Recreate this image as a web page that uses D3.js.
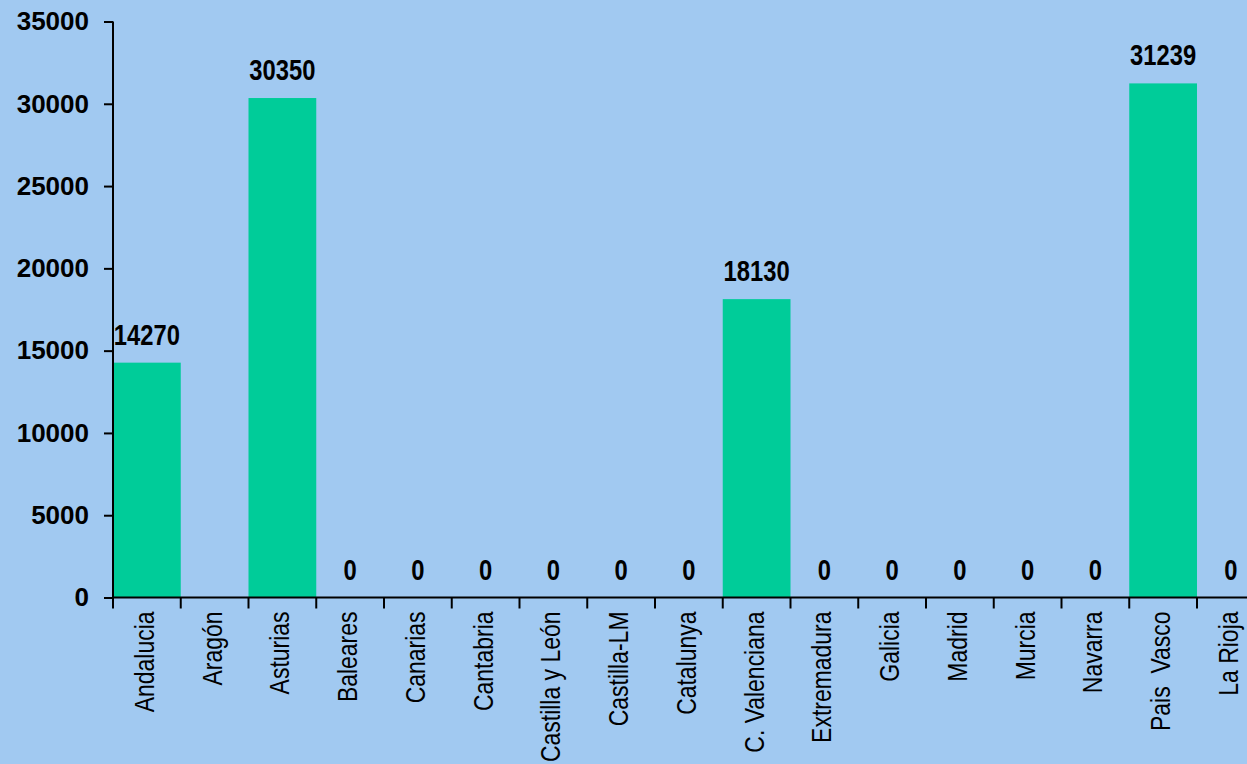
<!DOCTYPE html>
<html>
<head>
<meta charset="utf-8">
<script src="https://cdn.jsdelivr.net/npm/d3@7"></script>
<style>
  html, body { margin: 0; padding: 0; background: #a1c9f1; overflow: hidden; }
</style>
</head>
<body>
<div id="chart"></div>
<script>
// Size of the page
var w = 1247;
var h = 764;

// Data
var regions = ["Andalucia", "Aragón", "Asturias", "Baleares", "Canarias", "Cantabria",
	"Castilla y León", "Castilla-LM", "Catalunya", "C. Valenciana", "Extremadura",
	"Galicia", "Madrid", "Murcia", "Navarra", "Pais  Vasco", "La Rioja"];
var values = [14270, null, 30350, 0, 0, 0, 0, 0, 0, 18130, 0, 0, 0, 0, 0, 31239, 0];
var yTicks = [0, 5000, 10000, 15000, 20000, 25000, 30000, 35000];

var plotLeft = 113, plotTop = 21.5, plotBottom = 597.5;
var step = 67.75;
var narrow = 0.82; // squeeze Arial into an "Arial Narrow" look
var font = "Liberation Sans, Arial, sans-serif";

var x = d3.scaleBand()
	.domain(regions)
	.range([plotLeft, plotLeft + step * regions.length])
	.padding(0);

var y = d3.scaleLinear()
	.domain([0, 35000])
	.range([plotBottom, plotTop]);

var svg = d3.select("#chart")
	.append("svg")
	.attr("width", w)
	.attr("height", h);

svg.append("rect")
	.attr("width", w)
	.attr("height", h)
	.attr("fill", "#a1c9f1");

var shown = regions.filter(function(d, i) { return values[i] !== null; });
function val(d) { return values[regions.indexOf(d)]; }

// Bars
svg.selectAll("rect.bar")
	.data(shown)
	.enter()
	.append("rect")
	.attr("class", "bar")
	.attr("x", function(d) { return x(d); })
	.attr("width", x.bandwidth())
	.attr("y", function(d) { return y(val(d)); })
	.attr("height", function(d) { return plotBottom - y(val(d)); })
	.attr("fill", "#00cc99");

// Value labels
svg.selectAll("text.val")
	.data(shown)
	.enter()
	.append("text")
	.attr("class", "val")
	.attr("transform", function(d) {
		return "translate(" + (x(d) + x.bandwidth() / 2) + "," + (y(val(d)) - 18) + ") scale(" + narrow + ",1)";
	})
	.attr("text-anchor", "middle")
	.attr("font-family", font)
	.attr("font-size", 29)
	.attr("font-weight", "bold")
	.attr("fill", "#000")
	.text(function(d) { return val(d); });

// Y axis
var yAxis = d3.axisLeft(y)
	.tickValues(yTicks)
	.tickSize(9)
	.tickPadding(15)
	.tickFormat(d3.format("d"));

var gy = svg.append("g")
	.attr("transform", "translate(" + plotLeft + ",0)")
	.call(yAxis);
gy.selectAll("path, line").attr("stroke", "#000").attr("stroke-width", 2);
gy.select(".domain").attr("d", "M0," + plotBottom + "V" + plotTop);
gy.selectAll("text")
	.attr("font-family", font)
	.attr("font-size", 26)
	.attr("font-weight", "bold")
	.attr("fill", "#000");

// X axis: ticks on band edges
var gx = svg.append("g")
	.attr("transform", "translate(0," + plotBottom + ")");
gx.append("line")
	.attr("x1", plotLeft)
	.attr("x2", w)
	.attr("stroke", "#000")
	.attr("stroke-width", 2);
gx.selectAll("line.tick")
	.data(regions)
	.enter()
	.append("line")
	.attr("class", "tick")
	.attr("x1", function(d) { return x(d); })
	.attr("x2", function(d) { return x(d); })
	.attr("y1", 0)
	.attr("y2", 11)
	.attr("stroke", "#000")
	.attr("stroke-width", 2);

gx.selectAll("text.lab")
	.data(regions)
	.enter()
	.append("text")
	.attr("class", "lab")
	.attr("transform", function(d) {
		return "translate(" + (x(d) + x.bandwidth() / 2 + 7) + ",14) rotate(-90) scale(" + narrow + ",1)";
	})
	.attr("text-anchor", "end")
	.attr("font-family", font)
	.attr("font-size", 28)
	.attr("fill", "#000")
	.style("white-space", "pre")
	.text(function(d) { return d; });
</script>
</body>
</html>
